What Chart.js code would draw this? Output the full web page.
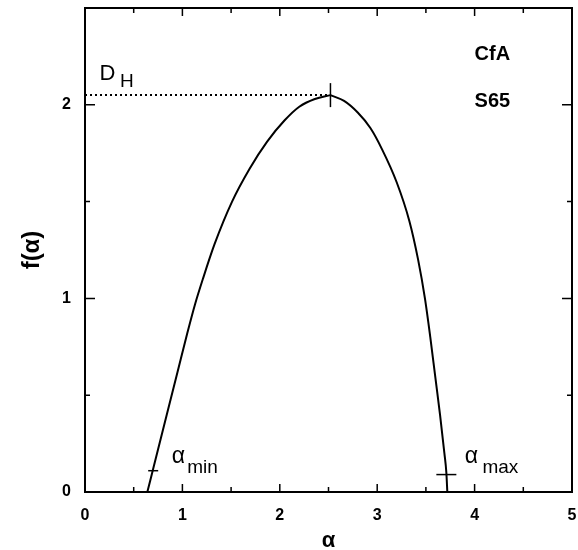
<!DOCTYPE html>
<html>
<head>
<meta charset="utf-8">
<script src="https://cdn.jsdelivr.net/npm/chart.js@4.4.0/dist/chart.umd.min.js"></script>
<style>
  html, body { margin: 0; padding: 0; background: #fff; }
  #wrap { width: 578px; height: 550px; }
</style>
</head>
<body>
<div id="wrap"><canvas id="chart" width="578" height="550"></canvas></div>
<script>
// f(alpha) curve, split at the maximum
const leftAlpha = [0.64, 0.70, 0.84, 0.95, 1.05, 1.13, 1.21, 1.33, 1.51, 1.69, 1.87, 2.05, 2.20, 2.36, 2.52];
const leftF = [0.00, 0.12, 0.40, 0.62, 0.82, 0.97, 1.10, 1.28, 1.50, 1.67, 1.81, 1.92, 1.99, 2.03, 2.05];
const rightAlpha = [2.52, 2.66, 2.80, 2.93, 3.05, 3.20, 3.33, 3.42, 3.49, 3.545, 3.595, 3.645, 3.69, 3.71, 3.72];
const rightF = [2.05, 2.02, 1.96, 1.88, 1.77, 1.60, 1.40, 1.20, 1.00, 0.80, 0.60, 0.40, 0.20, 0.10, 0.00];

// D_H level (dotted) and marked points
const dH = 2.05;
const dHx = [0, 2.52];
const peakPoint = { x: 2.52, y: 2.05 };
const minPoint = { x: 0.70, y: 0.11 };
const maxPoint = { x: 3.71, y: 0.09 };

const xTicks = [0, 1, 2, 3, 4, 5];
const yTicks = [0, 1, 2];

const toPoints = (xs, ys) => xs.map((x, i) => ({ x, y: ys[i] }));

const FONT = "'Liberation Sans', Arial, sans-serif";

// frame with inward ticks on all four sides, plus text labels
const framePlugin = {
  id: "frame",
  afterDraw(chart) {
    const { ctx, chartArea: a, scales } = chart;
    const xs = scales.x, ys = scales.y;
    ctx.save();
    ctx.strokeStyle = "#000";
    ctx.lineWidth = 2;
    ctx.strokeRect(a.left, a.top, a.right - a.left, a.bottom - a.top);
    ctx.lineWidth = 1.5;
    ctx.beginPath();
    xs.ticks.forEach(t => {
      const px = xs.getPixelForValue(t.value);
      const len = Number.isInteger(t.value) ? 8 : 5;
      ctx.moveTo(px, a.bottom); ctx.lineTo(px, a.bottom - len);
      ctx.moveTo(px, a.top); ctx.lineTo(px, a.top + len);
    });
    ys.ticks.forEach(t => {
      const py = ys.getPixelForValue(t.value);
      const len = Number.isInteger(t.value) ? 10 : 5;
      ctx.moveTo(a.left, py); ctx.lineTo(a.left + len, py);
      ctx.moveTo(a.right, py); ctx.lineTo(a.right - len, py);
    });
    ctx.stroke();

    const text = (s, font, x, y) => {
      ctx.font = font;
      ctx.fillText(s, xs.getPixelForValue(x), ys.getPixelForValue(y));
    };
    ctx.fillStyle = "#000";
    ctx.textBaseline = "alphabetic";
    ctx.textAlign = "left";
    text("D", "22px " + FONT, 0.15, 2.13);
    text("H", "19px " + FONT, 0.36, 2.09);
    text("CfA", "bold 20px " + FONT, 4.0, 2.23);
    text("S65", "bold 20px " + FONT, 4.0, 1.99);
    text("α", "23px " + FONT, 0.89, 0.15);
    text("min", "19px " + FONT, 1.05, 0.10);
    text("α", "23px " + FONT, 3.90, 0.15);
    text("max", "19px " + FONT, 4.08, 0.10);
    ctx.restore();
  }
};

const curveStyle = {
  showLine: true,
  borderColor: "#000",
  borderWidth: 2,
  pointRadius: 0,
  cubicInterpolationMode: "monotone"
};

new Chart(document.getElementById("chart"), {
  type: "scatter",
  data: {
    datasets: [
      { data: toPoints(leftAlpha, leftF), ...curveStyle },
      { data: toPoints(rightAlpha, rightF), ...curveStyle },
      {
        data: dHx.map(x => ({ x, y: dH })),
        showLine: true,
        borderColor: "#000",
        borderWidth: 2,
        borderDash: [2, 3],
        pointRadius: 0
      },
      {
        data: [minPoint, maxPoint],
        pointStyle: "line",
        pointRadius: [5, 10],
        borderColor: "#000",
        borderWidth: 1.5
      },
      {
        data: [peakPoint],
        pointStyle: "line",
        rotation: 90,
        pointRadius: 12,
        borderColor: "#000",
        borderWidth: 1.5
      }
    ]
  },
  options: {
    responsive: false,
    animation: false,
    layout: { autoPadding: false, padding: { top: 8, right: 6, left: 0, bottom: 0 } },
    plugins: { legend: { display: false }, tooltip: { enabled: false } },
    scales: {
      x: {
        type: "linear",
        min: 0,
        max: 5,
        grid: { display: false },
        border: { display: false },
        ticks: {
          stepSize: 0.5,
          padding: 6,
          color: "#000",
          font: { family: FONT, size: 16, weight: "bold" },
          callback: v => (xTicks.includes(v) ? v : "")
        },
        title: {
          display: true,
          text: "α",
          color: "#000",
          font: { family: FONT, size: 22, weight: "bold" },
          padding: { top: 0, bottom: -4 }
        },
        afterFit(scale) {
          scale.height = 58;
          scale.paddingLeft = 0;
          scale.paddingRight = 0;
        }
      },
      y: {
        type: "linear",
        min: 0,
        max: 2.5,
        grid: { display: false },
        border: { display: false },
        ticks: {
          stepSize: 0.5,
          padding: 6,
          color: "#000",
          font: { family: FONT, size: 16, weight: "bold" },
          callback: v => (yTicks.includes(v) ? v : "")
        },
        title: {
          display: true,
          text: "f(α)",
          color: "#000",
          font: { family: FONT, size: 24, weight: "bold" },
          padding: { top: 18, bottom: 0 }
        },
        afterFit(scale) {
          scale.width = 85;
          scale.paddingTop = 0;
          scale.paddingBottom = 0;
        }
      }
    }
  },
  plugins: [framePlugin]
});
</script>
</body>
</html>
